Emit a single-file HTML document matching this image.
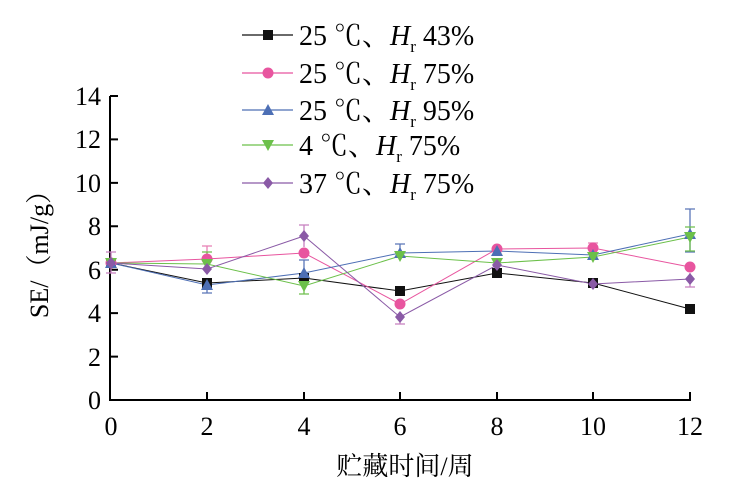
<!DOCTYPE html><html><head><meta charset="utf-8"><style>body{margin:0;background:#fff}</style></head><body>
<svg width="741" height="496" xmlns="http://www.w3.org/2000/svg" style="font-family:'Liberation Serif','Noto Serif CJK SC','Noto Sans CJK SC',serif">
<g stroke="#000" stroke-width="2" fill="none">
<line x1="110" y1="96" x2="110" y2="401"/><line x1="109" y1="400" x2="691" y2="400"/>
<path d="M110 96h8M110 139.4h8M110 182.9h8M110 226.3h8M110 269.7h8M110 313.1h8M110 356.6h8"/>
<path d="M207 400v-8M304 400v-8M400 400v-8M497 400v-8M593 400v-8M690 400v-8"/>
</g>
<g font-size="26" text-anchor="end">
<text x="101" y="105">14</text><text x="101" y="148">12</text><text x="101" y="192">10</text><text x="101" y="235">8</text><text x="101" y="279">6</text><text x="101" y="322">4</text><text x="101" y="366">2</text><text x="101" y="409">0</text>
</g>
<g font-size="26" text-anchor="middle">
<text x="111" y="435">0</text><text x="207" y="435">2</text><text x="304" y="435">4</text><text x="400" y="435">6</text><text x="497" y="435">8</text><text x="593" y="435">10</text><text x="690" y="435">12</text>
<text x="405" y="475">贮藏时间/周</text>
<text transform="translate(48,248) rotate(-90)">SE/（mJ/g）</text>
</g>
<g stroke-width="1.3" fill="none">
<g stroke="#c77fbf"><path d="M111 252v21M106 252h10M106 273h10M304 225v22M299 225h10M400 324v-10M395 324h10M690 287v-14M685 287h10"/></g>
<g stroke="#e87fb5"><path d="M207 246v20M202 246h10M593 243v10M588 243h10"/></g>
<g stroke="#5a76b8"><path d="M207 293v-10M202 293h10M400 244v10M395 244h10M690 209v43M685 209h10M685 252h10M304 260v15M299 260h10"/></g>
<g stroke="#6fbf4f"><path d="M690 227v24M685 227h10M685 251h10M304 294v-10M299 294h10M207 252v12M202 252h10"/></g>
</g>
<polyline fill="none" stroke="#111" stroke-width="1" points="111,263 207,283 304,278 400,291 497,273 593,283 690,309"/>
<polyline fill="none" stroke="#e8559f" stroke-width="1" points="111,263 207,259 304,253 400,304 497,249 593,248 690,267"/>
<polyline fill="none" stroke="#4d6fb5" stroke-width="1" points="111,263 207,285 304,273 400,253 497,251 593,255 690,234"/>
<polyline fill="none" stroke="#6cc04a" stroke-width="1" points="111,263 207,264 304,286 400,256 497,263 593,257 690,237"/>
<polyline fill="none" stroke="#8a5aa6" stroke-width="1" points="111,263 207,269 304,236 400,317 497,265 593,284 690,279"/>
<defs>
<rect id="sq" x="-5" y="-5" width="10" height="10" fill="#111"/>
<circle id="ci" r="5.5" fill="#e8559f"/>
<polygon id="tu" points="0,-6 6,5 -6,5" fill="#4d6fb5"/>
<polygon id="td" points="0,6 6,-5 -6,-5" fill="#6cc04a"/>
<polygon id="di" points="0,-6 5,0 0,6 -5,0" fill="#8a5aa6"/>
</defs>
<g>
<use href="#sq" x="111" y="263"/><use href="#sq" x="207" y="283"/><use href="#sq" x="304" y="278"/><use href="#sq" x="400" y="291"/><use href="#sq" x="497" y="273"/><use href="#sq" x="593" y="283"/><use href="#sq" x="690" y="309"/>
<use href="#ci" x="111" y="263"/><use href="#ci" x="207" y="259"/><use href="#ci" x="304" y="253"/><use href="#ci" x="400" y="304"/><use href="#ci" x="497" y="249"/><use href="#ci" x="593" y="248"/><use href="#ci" x="690" y="267"/>
<use href="#tu" x="111" y="263"/><use href="#tu" x="207" y="285"/><use href="#tu" x="304" y="273"/><use href="#tu" x="400" y="253"/><use href="#tu" x="497" y="251"/><use href="#tu" x="593" y="255"/><use href="#tu" x="690" y="234"/>
<use href="#td" x="111" y="263"/><use href="#td" x="207" y="264"/><use href="#td" x="304" y="286"/><use href="#td" x="400" y="256"/><use href="#td" x="497" y="263"/><use href="#td" x="593" y="257"/><use href="#td" x="690" y="237"/>
<use href="#di" x="111" y="263"/><use href="#di" x="207" y="269"/><use href="#di" x="304" y="236"/><use href="#di" x="400" y="317"/><use href="#di" x="497" y="265"/><use href="#di" x="593" y="284"/><use href="#di" x="690" y="279"/>
</g>
<g stroke-width="1.3">
<line x1="242" y1="35" x2="293" y2="35" stroke="#111"/><use href="#sq" x="268" y="35"/>
<line x1="242" y1="73" x2="293" y2="73" stroke="#e8559f"/><use href="#ci" x="268" y="73"/>
<line x1="242" y1="110" x2="293" y2="110" stroke="#4d6fb5"/><use href="#tu" x="268" y="110"/>
<line x1="242" y1="145" x2="293" y2="145" stroke="#6cc04a"/><use href="#td" x="268" y="145"/>
<line x1="242" y1="183" x2="293" y2="183" stroke="#8a5aa6"/><use href="#di" x="268" y="183"/>
</g>
<g font-size="28">
<text x="299" y="45">25 ℃、<tspan font-style="italic">H</tspan><tspan font-size="17" dy="7">r</tspan><tspan dy="-7"> 43%</tspan></text>
<text x="299" y="83">25 ℃、<tspan font-style="italic">H</tspan><tspan font-size="17" dy="7">r</tspan><tspan dy="-7"> 75%</tspan></text>
<text x="299" y="120">25 ℃、<tspan font-style="italic">H</tspan><tspan font-size="17" dy="7">r</tspan><tspan dy="-7"> 95%</tspan></text>
<text x="299" y="155">4 ℃、<tspan font-style="italic">H</tspan><tspan font-size="17" dy="7">r</tspan><tspan dy="-7"> 75%</tspan></text>
<text x="299" y="193">37 ℃、<tspan font-style="italic">H</tspan><tspan font-size="17" dy="7">r</tspan><tspan dy="-7"> 75%</tspan></text>
</g>
</svg></body></html>
